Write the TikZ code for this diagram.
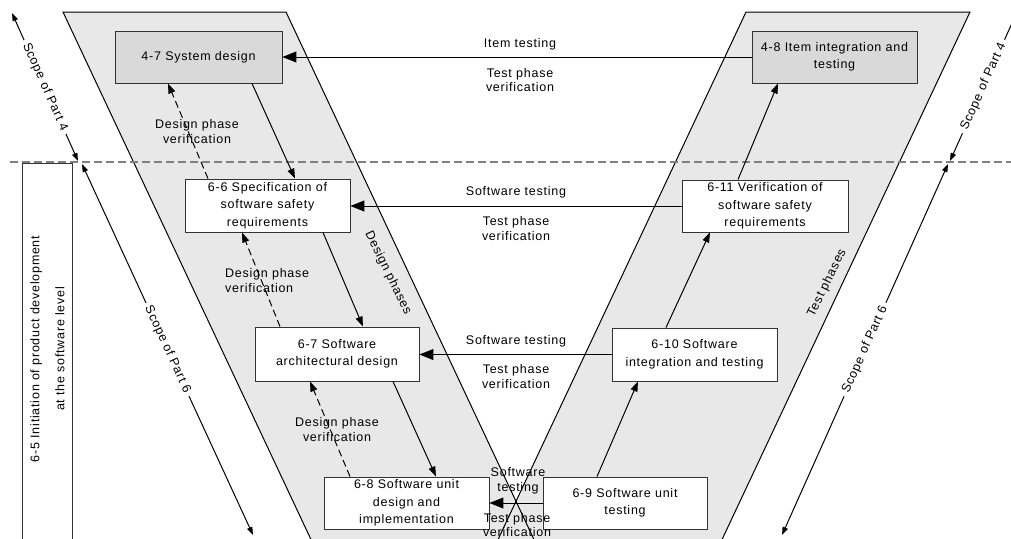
\documentclass[tikz,border=0pt]{standalone}
\usepackage{fontspec}
\setmainfont{Liberation Sans}[LetterSpace=6]
\usetikzlibrary{arrows.meta,calc}
\newcommand{\boxfnt}{\fontsize{12.5}{17.5}\selectfont}
\newcommand{\lblfnt}{\fontsize{12.5}{14.7}\selectfont}
\newcommand{\widefnt}{\fontsize{12.5}{25}\selectfont}
\definecolor{pgray}{gray}{0.91}
\definecolor{bgray}{gray}{0.85}
\definecolor{dgray}{gray}{0.5}
\tikzset{
 box/.style={draw=black!80, line width=0.9pt, fill=white, inner sep=0pt, align=center, font=\boxfnt},
 gbox/.style={box, fill=bgray},
 lbl/.style={inner sep=0pt, align=center, font=\lblfnt},
 harr/.style={line width=1pt, -{Triangle[length=14pt,width=11pt]}},
 darr/.style={line width=1pt, -{Triangle[length=10pt,width=7pt]}},
 dsh/.style={darr, dash pattern=on 7pt off 4pt},
 scopearr/.style={line width=1pt, {Triangle[length=8pt,width=5.5pt]}-{Triangle[length=8pt,width=5.5pt]}},
 stxt/.style={fill=white, inner sep=4pt, font=\lblfnt},
 edge/.style={line width=1pt, draw=black},
}
\begin{document}
\begin{tikzpicture}[x=1pt,y=-1pt]
\useasboundingbox (0,0) rectangle (1011,538);
% parallelograms
\fill[pgray] (63,12) -- (286,12) -- (534.2,540) -- (311.2,540) -- cycle;
\fill[pgray] (746,12) -- (970,12) -- (721.8,540) -- (497.8,540) -- cycle;
\draw[edge] (311.2,540) -- (63,12) -- (286,12) -- (534.2,540);
\draw[edge] (497.8,540) -- (746,12) -- (970,12) -- (721.8,540);
% dashed level line
\coordinate (dl) at (10,162);
\coordinate (dr) at (1011,162);
\draw[dgray, line width=1.2pt, dash pattern=on 8pt off 4pt] (dl) -- (dr);
% side box
\node[draw=black!80, line width=0.9pt, minimum width=50pt, minimum height=380pt, inner sep=0pt] (s65) at (47,353) {};
\node[rotate=90, align=center, font=\widefnt, inner sep=0pt] (s65t) at (47.5,349) {6-5 Initiation of product development\\at the software level};
% boxes
\node[gbox, minimum width=167pt, minimum height=52pt] (s47) at (198.5,57) {4-7 System design};
\node[gbox, minimum width=165pt, minimum height=52pt] (i48) at (834.5,57) {4-8 Item integration and\\testing};
\node[box, minimum width=165pt, minimum height=53pt] (s66) at (267.5,205.5) {6-6 Specification of\\software safety\\requirements};
\node[box, minimum width=166pt, minimum height=52pt] (s611) at (765,206) {6-11 Verification of\\software safety\\requirements};
\node[box, minimum width=164pt, minimum height=54pt] (s67) at (337,354) {6-7 Software\\architectural design};
\node[box, minimum width=165pt, minimum height=53pt] (s610) at (694.5,354.5) {6-10 Software\\integration and testing};
\node[box, minimum width=165pt, minimum height=52pt] (s68) at (406.5,503) {6-8 Software unit\\design and\\implementation};
\node[box, minimum width=164pt, minimum height=52pt] (s69) at (625,503) {6-9 Software unit\\testing};
% horizontal test arrows
\draw[harr] (i48.west) -- (s47.east);
\draw[harr] (s611.west) -- (s611.west -| s66.east);
\draw[harr] (s610.west) -- (s610.west -| s67.east);
\draw[harr] (s69.west) -- (s68.east);
% design flow
\draw[darr] ([xshift=53.5pt]s47.south) -- ([xshift=27.5pt]s66.north);
\draw[dsh] ([xshift=-59.5pt]s66.north) -- ([xshift=-30.5pt]s47.south);
\draw[darr] ([xshift=55.5pt]s66.south) -- ([xshift=26pt]s67.north);
\draw[dsh] ([xshift=-57pt]s67.north) -- ([xshift=-25.5pt]s66.south);
\draw[darr] ([xshift=56pt]s67.south) -- ([xshift=29.5pt]s68.north);
\draw[dsh] ([xshift=-56.5pt]s68.north) -- ([xshift=-27pt]s67.south);
% test flow
\draw[darr] ([xshift=-28pt]s69.north) -- ([xshift=-56.5pt]s610.south);
\draw[darr] ([xshift=-28.5pt]s610.north) -- ([xshift=-55pt]s611.south);
\draw[darr] ([xshift=-27pt]s611.north) -- ([xshift=-56.5pt]i48.south);
% labels
\node[lbl] (l1a) at (520,44) {Item testing};
\node[lbl] (l1b) at (520,80) {Test phase\\verification};
\node[lbl] (l2a) at (516,192) {Software testing};
\node[lbl] (l2b) at (516,228.5) {Test phase\\verification};
\node[lbl] (l3a) at (516,341) {Software testing};
\node[lbl] (l3b) at (516,376.5) {Test phase\\verification};
\node[lbl] (l4a) at (518,481) {Software\\testing};
\node[lbl] (l4b) at (517,525) {Test phase\\verification};
\node[lbl] (d1) at (197,131.5) {Design phase\\verification};
\node[lbl, align=left, anchor=west] (d2) at (225,280.5) {Design phase\\verification};
\node[lbl] (d3) at (337,429.5) {Design phase\\verification};
\node[lbl, rotate=-64] (dp) at (388,273) {Design phases};
\node[lbl, rotate=64] (tp) at (827,283) {Test phases};
% scope arrows
\coordinate (a4t) at (12,13);
\coordinate (a4b) at (78,161);
\coordinate (a6t) at (82,164);
\coordinate (a6b) at (253,535);
\coordinate (b4t) at (1017,12);
\coordinate (b4b) at (950,161);
\coordinate (b6t) at (948,164);
\coordinate (b6b) at (782,535);
\draw[scopearr] (a4t) -- (a4b);
\draw[scopearr] (a6t) -- (a6b);
\draw[scopearr] (b4t) -- (b4b);
\draw[scopearr] (b6t) -- (b6b);
\node[stxt, rotate=-65.9] (ta4) at ($(a4t)!0.5!(a4b)$) {Scope of Part 4};
\node[stxt, rotate=-65.3] (ta6) at ($(a6t)!0.5!(a6b)$) {Scope of Part 6};
\node[stxt, rotate=65.8] (tb4) at ($(b4t)!0.5!(b4b)$) {Scope of Part 4};
\node[stxt, rotate=65.8] (tb6) at ($(b6t)!0.5!(b6b)$) {Scope of Part 6};
\end{tikzpicture}
\end{document}
